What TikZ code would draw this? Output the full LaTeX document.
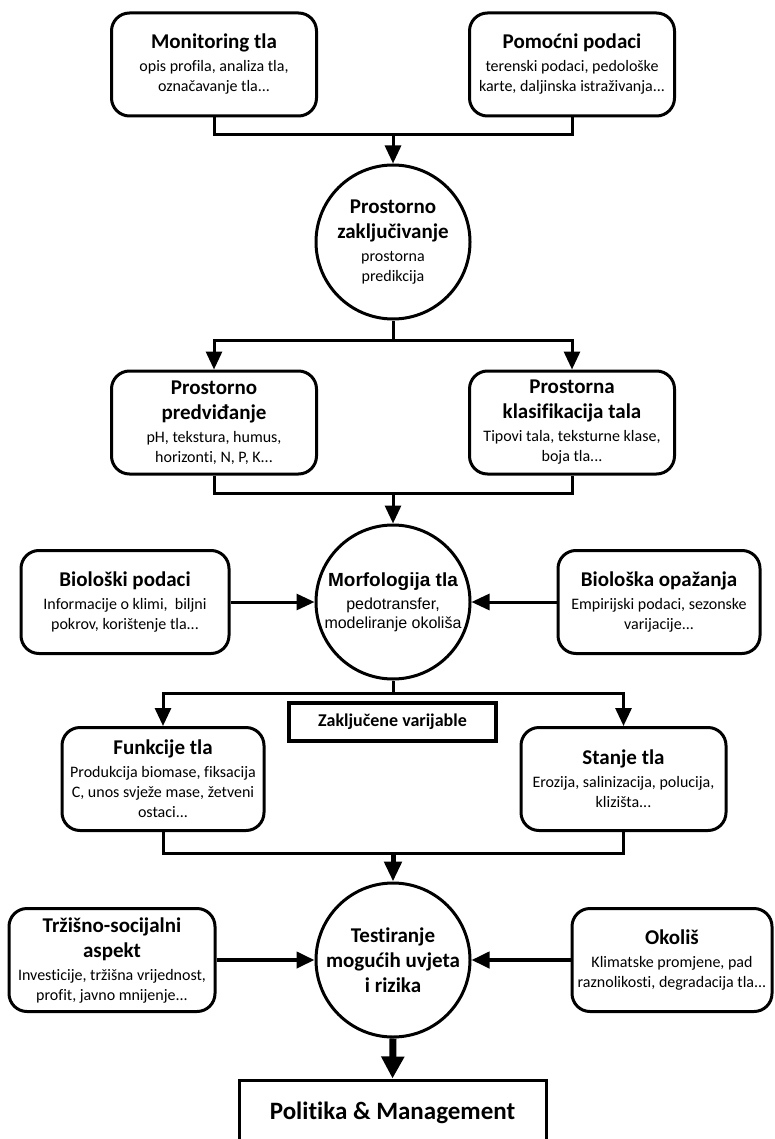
\documentclass[tikz,border=0pt]{standalone}
\usepackage{fontspec}
\setmainfont{Carlito}[Ligatures=NoCommon]
\newfontfamily\arialfont{Liberation Sans}
\usetikzlibrary{arrows.meta}

\tikzset{
  kutija/.style={draw, line width=3pt, rounded corners=18pt, minimum width=205pt, minimum height=103pt, inner sep=0pt, align=center, font=\fontsize{16}{20}\selectfont},
  krug/.style={draw, circle, line width=3pt, minimum size=154pt, inner sep=0pt, align=center, font=\fontsize{16}{20}\selectfont},
  okvir/.style={draw, rectangle, inner sep=0pt, align=center},
  linija/.style={line width=3pt},
  strelica/.style={line width=3pt, -{Triangle[length=18pt,width=16pt]}},
}
\newcommand{\nsl}[1]{{\fontsize{21}{25}\selectfont\bfseries #1}}

\begin{document}
\begin{tikzpicture}[x=1pt,y=-1pt]
  \useasboundingbox (0,0) rectangle (774,1139);
  \clip (0,0) rectangle (774,1139);
  \node[kutija] (mon) at (214,64.5) {\nsl{Monitoring tla}\\[3pt] opis profila, analiza tla,\\ označavanje tla...};
  \node[kutija] (pom) at (572,64.5) {\nsl{Pomoćni podaci}\\[3pt] terenski podaci, pedološke\\ karte, daljinska istraživanja...};
  \node[krug] (zak) at (393,242) {\nsl{Prostorno}\\[5pt] \nsl{zaključivanje}\\[3pt] prostorna\\ predikcija};
  \node[kutija] (pred) at (214,422.5) {\nsl{Prostorno}\\[5pt] \nsl{predviđanje}\\[3pt] pH, tekstura, humus,\\ horizonti, N, P, K...};
  \node[kutija] (klas) at (572,422.5) {\nsl{Prostorna}\\[5pt] \nsl{klasifikacija tala}\\[3pt] Tipovi tala, teksturne klase,\\ boja tla...};
  \node[krug, font=\arialfont\fontsize{16}{19}\selectfont] (morf) at (393,602) {{\fontsize{19}{23}\selectfont\bfseries Morfologija tla}\\[4pt] pedotransfer,\\ modeliranje okoliša};
  \node[kutija, minimum width=208pt] (bio) at (125,602) {\nsl{Biološki podaci}\\[3pt] Informacije o klimi,\ \ biljni\\ pokrov, korištenje tla...};
  \node[kutija, minimum width=202pt] (opa) at (659,602) {\nsl{Biološka opažanja}\\[3pt] Empirijski podaci, sezonske\\ varijacije...};
  \node[okvir, line width=3.5pt, minimum width=207pt, minimum height=38pt, font=\fontsize{18}{22}\selectfont\bfseries] (var) at (392.5,722) {Zaključene varijable};
  \node[kutija, minimum width=202pt] (funk) at (163,779) {\nsl{Funkcije tla}\\[3pt] Produkcija biomase, fiksacija\\ C, unos svježe mase, žetveni\\ ostaci...};
  \node[kutija] (stanje) at (623.5,779) {\nsl{Stanje tla}\\[3pt] Erozija, salinizacija, polucija,\\ klizišta...};
  \node[krug] (test) at (393,960) {\nsl{Testiranje}\\[5pt] \nsl{mogućih uvjeta}\\[5pt] \nsl{i rizika}};
  \node[kutija, minimum width=206pt] (trz) at (112,960) {\nsl{Tržišno-socijalni}\\[5pt] \nsl{aspekt}\\[3pt] Investicije, tržišna vrijednost,\\ profit, javno mnijenje...};
  \node[kutija, minimum width=200pt] (oko) at (672,960) {\nsl{Okoliš}\\[3pt] Klimatske promjene, pad\\ raznolikosti, degradacija tla...};
  \node[okvir, line width=3pt, minimum width=307pt, minimum height=66pt, font=\fontsize{25}{30}\selectfont\bfseries] (pol) at (392.5,1113) {Politika \& Management};
  \coordinate (s1) at (393,135);
  \coordinate (s2) at (393,340);
  \coordinate (s3) at (393,493);
  \coordinate (s4) at (393,693);
  \coordinate (s5) at (393,853);
  \draw[linija] (mon.south) |- (s1) -| (pom.south);
  \draw[strelica] (s1) -- (zak.north);
  \draw[linija] (zak.south) -- (s2);
  \draw[strelica] (s2) -| (pred.north);
  \draw[strelica] (s2) -| (klas.north);
  \draw[linija] (pred.south) |- (s3) -| (klas.south);
  \draw[strelica] (s3) -- (morf.north);
  \draw[strelica] (bio.east) -- (morf.west);
  \draw[strelica] (opa.west) -- (morf.east);
  \draw[linija] (morf.south) -- (s4);
  \draw[strelica] (s4) -| (funk.north);
  \draw[strelica] (s4) -| (stanje.north);
  \draw[linija] (funk.south) |- (s5) -| (stanje.south);
  \draw[strelica, line width=5pt, -{Triangle[length=20pt,width=17pt]}] (s5) -- (test.north);
  \draw[strelica, line width=4pt] (trz.east) -- (test.west);
  \draw[strelica, line width=4pt] (oko.west) -- (test.east);
  \draw[strelica, line width=7pt, -{Triangle[length=22pt,width=22pt]}] (test.south) -- (pol.north);
\end{tikzpicture}
\end{document}
